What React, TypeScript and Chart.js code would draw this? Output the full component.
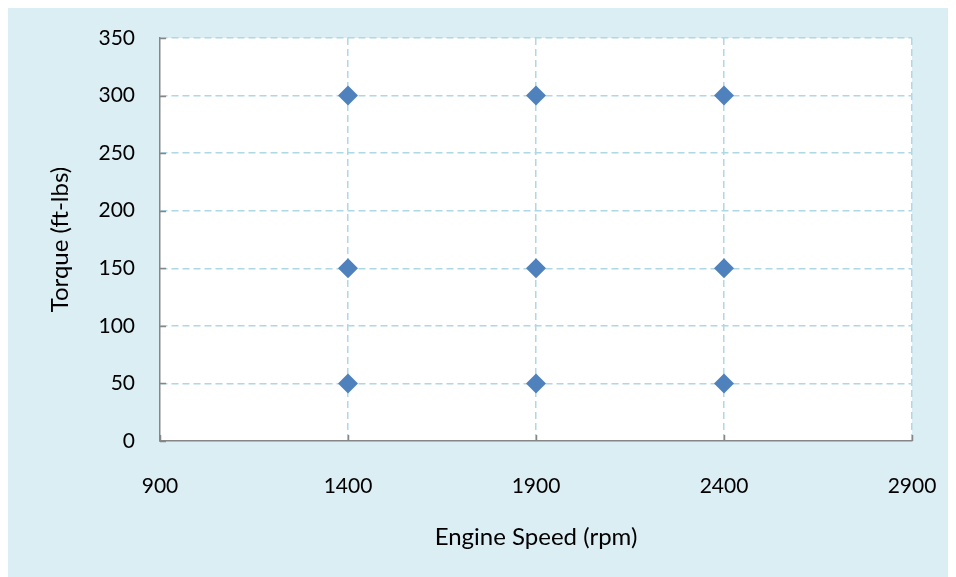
import React, { useEffect, useRef } from "react";
import { Chart, registerables } from "chart.js";

Chart.register(...registerables);

// Measurement grid: engine speed (rpm) vs torque (ft-lbs)
const engineSpeeds = [1400, 1900, 2400];
const torqueLevels = [50, 150, 300];

const xTicks = [900, 1400, 1900, 2400, 2900];
const yTicks = [0, 50, 100, 150, 200, 250, 300, 350];

const xTitle = "Engine Speed (rpm)";
const yTitle = "Torque (ft-lbs)";

const BG = "#DBEEF4";
const GRID = "#ADD8E4";
const AXIS = "#868686";
const MARKER = "#4F81BD";
const FONT = "Lato, 'Open Sans', sans-serif";

const points = engineSpeeds.flatMap((x) => torqueLevels.map((y) => ({ x, y })));

const backgroundPlugin = {
  id: "panelBackground",
  beforeDraw(chart: any) {
    const { ctx, chartArea, width, height } = chart;
    ctx.save();
    ctx.fillStyle = BG;
    ctx.fillRect(0, 0, width, height);
    ctx.fillStyle = "#FFFFFF";
    ctx.fillRect(chartArea.left, chartArea.top, chartArea.right - chartArea.left, chartArea.bottom - chartArea.top);
    ctx.restore();
  },
};

// Short tick marks pointing into the plot area
const innerTicksPlugin = {
  id: "innerTicks",
  afterDatasetsDraw(chart: any) {
    const { ctx, chartArea, scales } = chart;
    const len = 6;
    ctx.save();
    ctx.strokeStyle = AXIS;
    ctx.lineWidth = 1.5;
    ctx.beginPath();
    yTicks.forEach((v) => {
      const py = Math.round(scales.y.getPixelForValue(v)) + 0.5;
      ctx.moveTo(chartArea.left, py);
      ctx.lineTo(chartArea.left + len, py);
    });
    xTicks.forEach((v) => {
      const px = Math.round(scales.x.getPixelForValue(v)) + 0.5;
      ctx.moveTo(px, chartArea.bottom);
      ctx.lineTo(px, chartArea.bottom - len);
    });
    ctx.stroke();
    ctx.restore();
  },
};

const zeroPadding = (s: any) => {
  s.paddingLeft = 0;
  s.paddingRight = 0;
  s.paddingTop = 0;
  s.paddingBottom = 0;
};

export default function App() {
  const ref = useRef<HTMLCanvasElement | null>(null);

  useEffect(() => {
    if (!ref.current) return;
    // The panel runs to the window's right and bottom edges; keep scrollbars away
    document.documentElement.style.overflow = "hidden";
    const chart = new Chart(ref.current, {
      type: "scatter",
      data: {
        datasets: [
          {
            label: "Test points",
            data: points,
            pointStyle: "rectRot",
            pointRadius: 10,
            pointHoverRadius: 10,
            backgroundColor: MARKER,
            borderColor: MARKER,
            borderWidth: 0,
          },
        ],
      },
      options: {
        responsive: false,
        animation: false,
        layout: { padding: { left: 0, top: 30, right: 44, bottom: 0 } },
        plugins: {
          legend: { display: false },
          tooltip: { enabled: false },
        },
        scales: {
          x: {
            type: "linear",
            min: 900,
            max: 2900,
            afterBuildTicks: (s: any) => {
              s.ticks = xTicks.map((value) => ({ value }));
            },
            afterFit: (s: any) => {
              s.height = 136;
              zeroPadding(s);
            },
            grid: {
              drawTicks: false,
              color: (c: any) => (c.tick && c.tick.value === 900 ? "rgba(0,0,0,0)" : GRID),
              lineWidth: 1.5,
            },
            border: { display: true, color: AXIS, width: 1.5, dash: [7, 4] },
            ticks: {
              padding: 33,
              color: "#000000",
              font: { family: FONT, size: 21 },
              callback: (v: any) => String(v),
            },
            title: {
              display: true,
              text: xTitle,
              color: "#000000",
              font: { family: FONT, size: 24 },
              padding: { top: 0, bottom: 25 },
            },
          },
          y: {
            type: "linear",
            min: 0,
            max: 350,
            afterBuildTicks: (s: any) => {
              s.ticks = yTicks.map((value) => ({ value }));
            },
            afterFit: (s: any) => {
              s.width = 152;
              zeroPadding(s);
            },
            grid: {
              drawTicks: false,
              color: (c: any) => (c.tick && c.tick.value === 0 ? "rgba(0,0,0,0)" : GRID),
              lineWidth: 1.5,
            },
            border: { display: true, color: AXIS, width: 1.5, dash: [7, 4] },
            ticks: {
              padding: 25,
              color: "#000000",
              font: { family: FONT, size: 21 },
              callback: (v: any) => String(v),
            },
            title: {
              display: true,
              text: yTitle,
              color: "#000000",
              font: { family: FONT, size: 24 },
              padding: { top: 38, bottom: 0 },
            },
          },
        },
      },
      plugins: [backgroundPlugin, innerTicksPlugin],
    });
    return () => chart.destroy();
  }, []);

  return (
    <div style={{ width: 948, height: 569, background: BG }}>
      <canvas ref={ref} width={948} height={569} style={{ display: "block", width: 948, height: 569 }} />
    </div>
  );
}
